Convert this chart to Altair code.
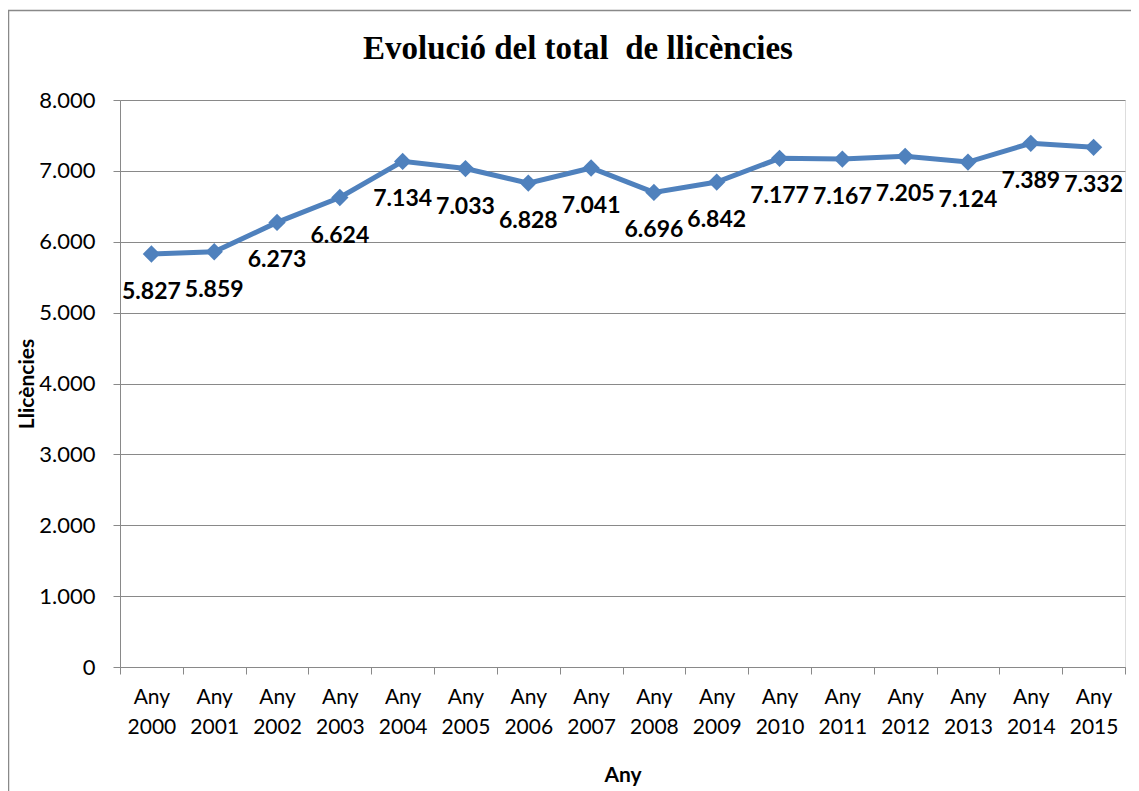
import altair as alt
import pandas as pd

years = [2000, 2001, 2002, 2003, 2004, 2005, 2006, 2007,
         2008, 2009, 2010, 2011, 2012, 2013, 2014, 2015]
categories = [f"Any {y}" for y in years]
values = [5827, 5859, 6273, 6624, 7134, 7033, 6828, 7041,
          6696, 6842, 7177, 7167, 7205, 7124, 7389, 7332]
y_ticks = [0, 1000, 2000, 3000, 4000, 5000, 6000, 7000, 8000]
# second space kept visible (SVG would collapse a double space)
title_text = "Evolució del total \u00a0de llicències"

df = pd.DataFrame({"cat": categories, "value": values})

W, H = 1005, 567
FONT = "Lato"
GRAY = "#898989"
BLUE = "#4F81BD"

x_enc = alt.X(
    "cat:N",
    sort=categories,
    scale=alt.Scale(type="band", paddingInner=0, paddingOuter=0),
    axis=alt.Axis(
        title="Any",
        tickBand="extent",
        labelAngle=0,
        labelExpr="split(datum.label, ' ')",
        labelFont=FONT,
        labelFontSize=21,
        labelColor="black",
        labelLineHeight=30,
        labelPadding=12,
        labelBaseline="top",
        tickSize=7,
        tickColor=GRAY,
        domainColor=GRAY,
        titleFont=FONT,
        titleFontSize=21,
        titleFontWeight="bold",
        titleColor="black",
        titleY=108,
        titleBaseline="middle",
        grid=False,
    ),
)

y_enc = alt.Y(
    "value:Q",
    scale=alt.Scale(domain=[0, 8000], nice=False),
    axis=alt.Axis(
        title="Llicències",
        values=y_ticks,
        labelExpr="replace(format(datum.value, ','), ',', '.')",
        labelFont=FONT,
        labelFontSize=22,
        labelColor="black",
        labelPadding=18,
        tickSize=7,
        tickColor=GRAY,
        domainColor=GRAY,
        gridColor=GRAY,
        grid=True,
        titleFont=FONT,
        titleFontSize=21,
        titleFontWeight="bold",
        titleColor="black",
        titleX=-93,
        titleY=H / 2,
        titleBaseline="middle",
        titleAlign="center",
        titleAngle=-90,
    ),
)

base = alt.Chart(df).encode(x=x_enc, y=y_enc)

line = base.mark_line(color=BLUE, strokeWidth=5)
points = base.mark_point(shape="diamond", filled=True, color=BLUE, size=300, opacity=1)
labels = base.transform_calculate(
    lab="replace(format(datum.value, ','), ',', '.')"
).mark_text(
    font=FONT, fontSize=23, fontWeight="bold", color="black",
    dy=38, baseline="middle", align="center"
).encode(text="lab:N")

single = pd.DataFrame({"t": [title_text]})

frame = alt.Chart(single).mark_rect(
    fillOpacity=0, stroke=GRAY, strokeWidth=1.5
).encode(
    x=alt.value(-111.5), x2=alt.value(W + 60),
    y=alt.value(-89.5), y2=alt.value(H + 160),
)

title = alt.Chart(single).mark_text(
    font="Liberation Serif", fontSize=33, fontWeight="bold", color="black",
    align="center", baseline="alphabetic",
).encode(
    text="t:N", x=alt.value(458), y=alt.value(-41),
)

chart = alt.layer(frame, line, points, labels, title).properties(
    width=W, height=H,
    autosize=alt.AutoSizeParams(type="none"),
    padding={"left": 112, "top": 92, "right": 6, "bottom": 124},
).configure_view(stroke=None).configure(background="white")

chart.save("out.html", embed_options={"renderer": "svg", "actions": False})
